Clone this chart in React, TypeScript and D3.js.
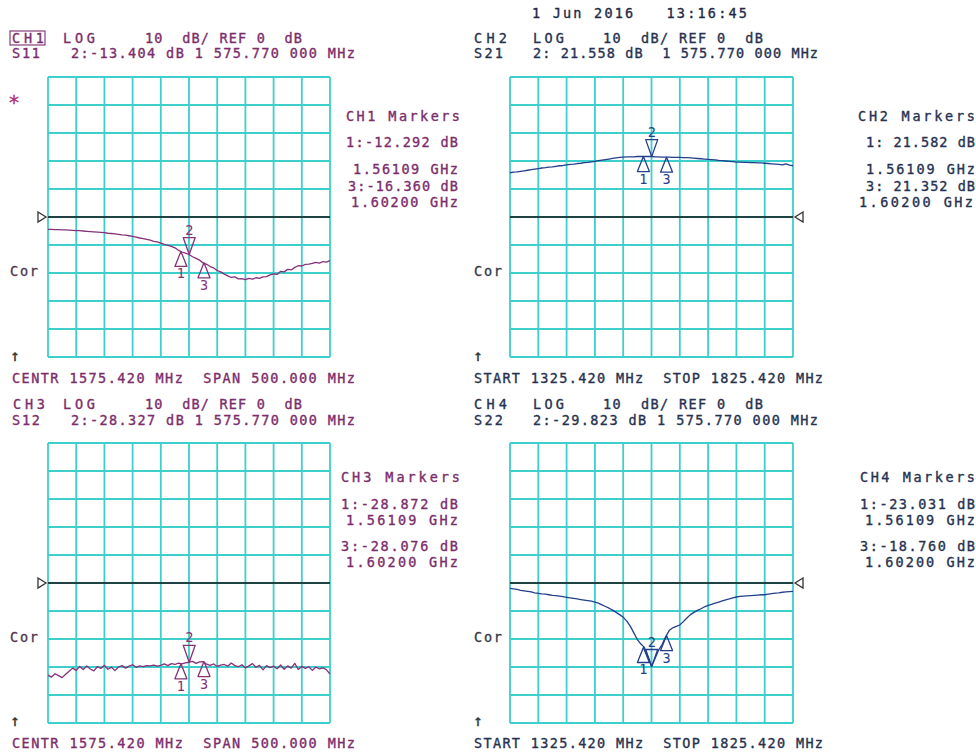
import React from 'react';
import * as d3 from 'd3';

// ---------- data ----------
const FREQ_START = 1325.42; // MHz
const FREQ_STOP = 1825.42; // MHz
const DB_BOTTOM = -50;
const DB_TOP = 50;
const REF_DB = 0;
const DIVISIONS = [0, 1, 2, 3, 4, 5, 6, 7, 8, 9, 10];
const MARKER_FREQS = [1561.09, 1575.77, 1602.0]; // MHz
const ACTIVE_MARKER = 1;

// S11 (dB), evenly swept from start to stop
const ch1Trace = [
  -4.4, -4.4, -4.5, -4.5, -4.6, -4.6, -4.7, -4.8, -4.9, -4.9, -5.0, -5.1, -5.2, -5.3, -5.4, -5.5,
  -5.6, -5.8, -5.9, -6.0, -6.2, -6.4, -6.5, -6.7, -6.9, -7.2, -7.5, -7.7, -8.0, -8.3, -8.7, -8.9,
  -9.3, -9.8, -10.1, -10.5, -11.0, -11.9, -12.5, -12.9, -13.4, -14.2, -14.8, -15.4, -16.4, -16.9,
  -17.7, -18.2, -19.1, -19.6, -20.4, -21.0, -21.6, -21.4, -22.1, -22.0, -22.4, -21.9, -22.2, -21.7,
  -21.9, -21.4, -21.3, -20.7, -20.3, -20.5, -19.4, -19.6, -18.7, -18.9, -18.0, -17.4, -17.5, -16.9,
  -16.8, -16.6, -16.2, -16.5, -15.9, -16.1, -15.6,
];
// S21 (dB)
const ch2Trace = [
  15.8, 16.0, 16.1, 16.3, 16.5, 16.7, 16.9, 17.1, 17.3, 17.5, 17.6, 17.8, 17.9, 18.1, 18.3, 18.4,
  18.6, 18.8, 18.9, 19.1, 19.2, 19.4, 19.5, 19.7, 19.9, 20.1, 20.3, 20.5, 20.7, 20.9, 21.1, 21.3,
  21.4, 21.5, 21.5, 21.5, 21.6, 21.6, 21.6, 21.6, 21.6, 21.5, 21.5, 21.4, 21.4, 21.4, 21.3, 21.3,
  21.3, 21.2, 21.2, 21.1, 21.0, 20.9, 20.8, 20.7, 20.6, 20.5, 20.4, 20.2, 20.1, 20.0, 19.9, 19.8,
  19.6, 19.6, 19.5, 19.5, 19.4, 19.4, 19.3, 19.3, 19.2, 19.1, 19.0, 18.9, 18.8, 18.6, 19.0, 18.5,
  18.3,
];
// S12 (dB)
const ch3Trace = [
  -32.9, -33.6, -32.4, -33.1, -33.8, -32.6, -31.5, -30.4, -31.2, -29.8, -30.9, -29.6, -30.7, -31.4,
  -29.9, -30.5, -29.4, -30.8, -30.1, -31.3, -30.0, -29.5, -30.4, -29.7, -29.2, -30.1, -29.6, -29.9,
  -29.5, -29.6, -29.3, -29.7, -29.4, -28.9, -29.5, -28.8, -29.1, -28.6, -28.9, -28.5, -28.3, -28.0,
  -28.7, -28.2, -28.1, -29.0, -29.4, -28.9, -29.8, -29.3, -29.1, -29.7, -28.6, -29.5, -29.9, -29.2,
  -30.3, -29.6, -28.8, -30.1, -29.4, -31.0, -29.5, -30.2, -29.7, -30.6, -29.3, -30.8, -29.6, -30.4,
  -28.7, -30.9, -29.8, -30.5, -29.9, -31.2, -30.0, -30.7, -30.3, -31.0, -32.5,
];
// S22 (dB)
const ch4Trace = [
  -1.9, -2.1, -2.3, -2.6, -2.8, -3.0, -3.2, -3.5, -3.7, -3.9, -4.0, -4.2, -4.4, -4.5, -4.7, -4.9,
  -5.1, -5.3, -5.5, -5.7, -5.9, -6.1, -6.3, -6.5, -6.8, -7.2, -7.8, -8.4, -9.0, -9.7, -10.5, -11.3,
  -12.2, -13.6, -15.4, -17.8, -20.2, -21.8, -23.0, -26.5, -29.8, -27.0, -24.0, -22.0, -19.2, -17.0,
  -16.0, -15.5, -15.0, -13.8, -12.5, -11.3, -10.5, -9.8, -9.2, -8.5, -8.0, -7.6, -7.2, -6.8, -6.4,
  -6.0, -5.7, -5.3, -5.0, -4.8, -4.7, -4.6, -4.5, -4.4, -4.3, -4.2, -4.2, -4.0, -3.8, -3.6, -3.5,
  -3.3, -3.2, -3.1, -3.0,
];

const ch1Markers = [-12.292, -13.404, -16.36];
const ch2Markers = [21.582, 21.558, 21.352];
const ch3Markers = [-28.872, -28.327, -28.076];
const ch4Markers = [-23.031, -29.823, -18.76];

const DATE_TEXT = '1 Jun 2016   13:16:45';

// ---------- styling ----------
const FONT = '"DejaVu Sans Mono", "Liberation Mono", monospace';
const FS = 13.5;
const GRID = '#3ccfcc';
const PURPLE_TEXT = '#7c2d6c';
const PURPLE_TRACE = '#86307a';
const NAVY_TEXT = '#263250';
const NAVY_TRACE = '#233f8c';

type Label = { t: string; x: number; y: number; w?: number; anchor?: string; box?: boolean };

const Txt = ({ l, fill, size = FS }: { l: Label; fill: string; size?: number }) => {
  const props: any = {};
  if (l.w) {
    props.textLength = l.w;
    props.lengthAdjust = 'spacing';
  }
  return (
    <g>
      {l.box && (
        <rect x={l.x - 2} y={l.y - 12} width={(l.w || 30) + 3} height={14} fill="none" stroke={fill} strokeWidth={1.1} />
      )}
      <text
        x={l.x}
        y={l.y}
        fill={fill}
        stroke={fill}
        strokeWidth={0.35}
        fontFamily={FONT}
        fontSize={size}
        textAnchor={l.anchor || 'start'}
        style={{ whiteSpace: 'pre' }}
        xmlSpace="preserve"
        {...props}
      >
        {l.t}
      </text>
    </g>
  );
};

type PanelProps = {
  x0: number;
  x1: number;
  y0: number;
  y1: number;
  trace: number[];
  markers: number[];
  traceColor: string;
  refSide: 'left' | 'right';
};

const Panel = ({ x0, x1, y0, y1, trace, markers, traceColor, refSide }: PanelProps) => {
  const x = d3.scaleLinear().domain([FREQ_START, FREQ_STOP]).range([x0, x1]);
  const y = d3.scaleLinear().domain([DB_BOTTOM, DB_TOP]).range([y1, y0]);
  const gx = d3.scaleLinear().domain([0, 10]).range([x0, x1]);
  const gy = d3.scaleLinear().domain([0, 10]).range([y0, y1]);
  const step = (FREQ_STOP - FREQ_START) / (trace.length - 1);
  const line = d3
    .line<number>()
    .x((_, i) => x(FREQ_START + i * step))
    .y((d) => y(d));
  const ry = y(REF_DB);
  const refTri =
    refSide === 'left'
      ? `M${x0 - 10},${ry - 5}L${x0 - 2},${ry}L${x0 - 10},${ry + 5}Z`
      : `M${x1 + 10},${ry - 5}L${x1 + 2},${ry}L${x1 + 10},${ry + 5}Z`;
  return (
    <g>
      {DIVISIONS.map((d) => (
        <line key={'v' + d} x1={gx(d)} x2={gx(d)} y1={y0} y2={y1} stroke={GRID} strokeWidth={1.8} />
      ))}
      {DIVISIONS.map((d) => (
        <line key={'h' + d} x1={x0} x2={x1} y1={gy(d)} y2={gy(d)} stroke={GRID} strokeWidth={1.8} />
      ))}
      <line x1={x0} x2={x1} y1={ry} y2={ry} stroke="#151515" strokeWidth={1.6} />
      <path d={refTri} fill="#fff" stroke="#333" strokeWidth={1.3} />
      <path d={line(trace) || ''} fill="none" stroke={traceColor} strokeWidth={1.3} strokeLinejoin="round" />
      {MARKER_FREQS.map((f, k) => {
        const cx = x(f);
        const cy = y(markers[k]);
        const active = k === ACTIVE_MARKER;
        const d = active
          ? `M${cx},${cy}L${cx - 6},${cy - 17}L${cx + 6},${cy - 17}Z`
          : `M${cx},${cy}L${cx - 6},${cy + 15}L${cx + 6},${cy + 15}Z`;
        return (
          <g key={k}>
            <path d={d} fill="none" stroke={traceColor} strokeWidth={1.3} strokeLinejoin="round" />
            <text
              x={cx}
              y={active ? cy - 20 : cy + 27}
              textAnchor="middle"
              fontFamily={FONT}
              fontSize={FS}
              fill={traceColor}
            >
              {String(k + 1)}
            </text>
          </g>
        );
      })}
    </g>
  );
};

const fmt = (v: number) => (v < 0 ? '-' : ' ') + Math.abs(v).toFixed(3);
const ghz = (f: number) => (f / 1000).toFixed(5) + ' GHz';

export default function App() {
  const tl: Label[] = [
    { t: 'CH1', x: 12, y: 43, w: 32, box: true },
    { t: 'LOG', x: 63, y: 43, w: 32 },
    { t: '10  dB/ REF 0  dB', x: 145, y: 43, w: 157 },
    { t: 'S11', x: 12, y: 58, w: 28 },
    { t: `2:${fmt(ch1Markers[1])} dB 1 575.770 000 MHz`, x: 71, y: 58, w: 284 },
    { t: 'CH1 Markers', x: 346, y: 121, w: 114 },
    { t: `1:${fmt(ch1Markers[0])} dB`, x: 346, y: 147, w: 112 },
    { t: ghz(MARKER_FREQS[0]), x: 353, y: 174, w: 105 },
    { t: `3:${fmt(ch1Markers[2])} dB`, x: 348, y: 191, w: 110 },
    { t: ghz(MARKER_FREQS[2]), x: 351, y: 207, w: 107 },
    { t: 'CENTR 1575.420 MHz  SPAN 500.000 MHz', x: 12, y: 383, w: 343 },
  ];
  const bl: Label[] = [
    { t: 'CH3', x: 13, y: 409, w: 32 },
    { t: 'LOG', x: 63, y: 409, w: 32 },
    { t: '10  dB/ REF 0  dB', x: 145, y: 409, w: 157 },
    { t: 'S12', x: 12, y: 425, w: 28 },
    { t: `2:${fmt(ch3Markers[1])} dB 1 575.770 000 MHz`, x: 71, y: 425, w: 284 },
    { t: 'CH3 Markers', x: 341, y: 482, w: 119 },
    { t: `1:${fmt(ch3Markers[0])} dB`, x: 341, y: 509, w: 117 },
    { t: ghz(MARKER_FREQS[0]), x: 346, y: 525, w: 112 },
    { t: `3:${fmt(ch3Markers[2])} dB`, x: 341, y: 551, w: 117 },
    { t: ghz(MARKER_FREQS[2]), x: 346, y: 567, w: 112 },
    { t: 'CENTR 1575.420 MHz  SPAN 500.000 MHz', x: 12, y: 748, w: 343 },
  ];
  const tr: Label[] = [
    { t: 'CH2', x: 474, y: 43, w: 33 },
    { t: 'LOG', x: 533, y: 43, w: 31 },
    { t: '10  dB/ REF 0  dB', x: 603, y: 43, w: 160 },
    { t: 'S21', x: 474, y: 58, w: 29 },
    { t: `2:${fmt(ch2Markers[1])} dB  1 575.770 000 MHz`, x: 533, y: 58, w: 285 },
    { t: 'CH2 Markers', x: 858, y: 121, w: 117 },
    { t: `1:${fmt(ch2Markers[0])} dB`, x: 866, y: 147, w: 109 },
    { t: ghz(MARKER_FREQS[0]), x: 866, y: 174, w: 109 },
    { t: `3:${fmt(ch2Markers[2])} dB`, x: 866, y: 191, w: 109 },
    { t: ghz(MARKER_FREQS[2]), x: 859, y: 207, w: 114 },
    { t: 'START 1325.420 MHz  STOP 1825.420 MHz', x: 474, y: 383, w: 349 },
  ];
  const br: Label[] = [
    { t: 'CH4', x: 474, y: 409, w: 33 },
    { t: 'LOG', x: 533, y: 409, w: 31 },
    { t: '10  dB/ REF 0  dB', x: 603, y: 409, w: 160 },
    { t: 'S22', x: 474, y: 425, w: 29 },
    { t: `2:${fmt(ch4Markers[1])} dB 1 575.770 000 MHz`, x: 533, y: 425, w: 285 },
    { t: 'CH4 Markers', x: 860, y: 482, w: 115 },
    { t: `1:${fmt(ch4Markers[0])} dB`, x: 860, y: 509, w: 115 },
    { t: ghz(MARKER_FREQS[0]), x: 865, y: 525, w: 110 },
    { t: `3:${fmt(ch4Markers[2])} dB`, x: 860, y: 551, w: 115 },
    { t: ghz(MARKER_FREQS[2]), x: 865, y: 567, w: 110 },
    { t: 'START 1325.420 MHz  STOP 1825.420 MHz', x: 474, y: 748, w: 349 },
  ];
  const misc: { l: Label; fill: string; size?: number }[] = [
    { l: { t: DATE_TEXT, x: 532, y: 18, w: 215 }, fill: '#1f2a44' },
    { l: { t: '*', x: 8, y: 109 }, fill: '#b0307a', size: 20 },
    { l: { t: 'Cor', x: 10, y: 276, w: 28 }, fill: '#4e3650' },
    { l: { t: 'Cor', x: 10, y: 642, w: 28 }, fill: '#4e3650' },
    { l: { t: 'Cor', x: 474, y: 276, w: 28 }, fill: '#333a48' },
    { l: { t: 'Cor', x: 474, y: 642, w: 28 }, fill: '#333a48' },
    { l: { t: '↑', x: 15, y: 361, anchor: 'middle' }, fill: '#333', size: 16 },
    { l: { t: '↑', x: 15, y: 726, anchor: 'middle' }, fill: '#333', size: 16 },
    { l: { t: '↑', x: 478, y: 361, anchor: 'middle' }, fill: '#333', size: 16 },
    { l: { t: '↑', x: 478, y: 726, anchor: 'middle' }, fill: '#333', size: 16 },
  ];

  return (
    <div style={{ position: 'absolute', left: 0, top: 0 }}>
      <svg width={976} height={753} viewBox="0 0 976 753" style={{ display: 'block', background: '#fff' }}>
        <rect x={0} y={0} width={976} height={753} fill="#fff" />
        <Panel x0={48} x1={330} y0={77} y1={357} trace={ch1Trace} markers={ch1Markers} traceColor={PURPLE_TRACE} refSide="left" />
        <Panel x0={510} x1={793} y0={77} y1={357} trace={ch2Trace} markers={ch2Markers} traceColor={NAVY_TRACE} refSide="right" />
        <Panel x0={48} x1={330} y0={443} y1={723} trace={ch3Trace} markers={ch3Markers} traceColor={PURPLE_TRACE} refSide="left" />
        <Panel x0={510} x1={793} y0={443} y1={723} trace={ch4Trace} markers={ch4Markers} traceColor={NAVY_TRACE} refSide="right" />
        {tl.map((l, i) => <Txt key={'tl' + i} l={l} fill={PURPLE_TEXT} />)}
        {bl.map((l, i) => <Txt key={'bl' + i} l={l} fill={PURPLE_TEXT} />)}
        {tr.map((l, i) => <Txt key={'tr' + i} l={l} fill={NAVY_TEXT} />)}
        {br.map((l, i) => <Txt key={'br' + i} l={l} fill={NAVY_TEXT} />)}
        {misc.map((m, i) => <Txt key={'m' + i} l={m.l} fill={m.fill} size={m.size} />)}
      </svg>
    </div>
  );
}
